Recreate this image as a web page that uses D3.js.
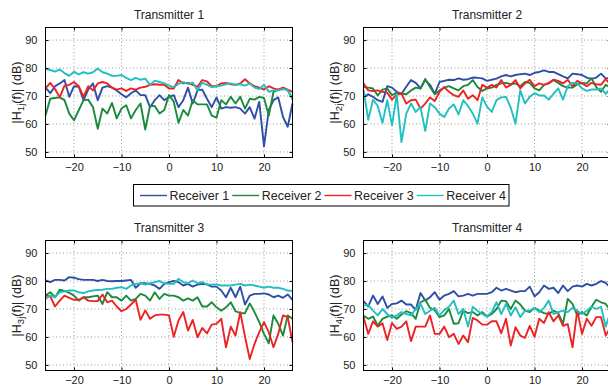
<!DOCTYPE html>
<html>
<head>
<meta charset="utf-8">
<script src="https://cdn.jsdelivr.net/npm/d3@7"></script>
<style>
    body { margin: 0; background: #fff; }
    svg { display: block; font-family: "Liberation Sans", Arial, Helvetica, sans-serif; }
    .grid line { stroke: #9a9a9a; stroke-width: 1; stroke-dasharray: 1,2.5; }
    .axis text { fill: #222; font-size: 11px; }
    .axis line { stroke: #000; }
    .box { fill: none; stroke: #000; stroke-width: 1; }
    .series { fill: none; stroke-width: 1.9; stroke-linejoin: round; }
    .chartTitle { font-size: 12px; fill: #222; }
    .yLabel { font-size: 12.5px; fill: #222; }
    .legendText { font-size: 12.5px; fill: #222; }
</style>
</head>
<body>
<div id="chart"></div>
<script>

/**************
***** DATA *****
***************/

const subcarriers = [-26, -25, -24, -23, -22, -21, -20, -19, -18, -17, -16, -15, -14, -13,
    -12, -11, -10, -9, -8, -7, -6, -5, -4, -3, -2, -1, 0, 1, 2, 3, 4, 5, 6, 7, 8, 9, 10,
    11, 12, 13, 14, 15, 16, 17, 18, 19, 20, 21, 22, 23, 24, 25, 26];

const xTicks = [-20, -10, 0, 10, 20];
const yTicks = [50, 60, 70, 80, 90];

const receivers = ["Receiver 1", "Receiver 2", "Receiver 3", "Receiver 4"];
const transmitters = ["Transmitter 1", "Transmitter 2", "Transmitter 3", "Transmitter 4"];

// transmitter 1
const tx1Rx1 = [73, 71, 73.5, 74.5, 75.7, 69.7, 73.5, 73.3, 68.5, 72.3, 74.5, 68.5, 73, 73.5, 73, 72, 70.6, 69.5, 71, 72, 70.3, 70.3, 66, 68.5, 70.3, 68.5,
    69.7, 70.3, 66, 68.5, 73, 67.3, 72, 72.3, 69, 66, 69.5, 65.5, 66, 65.8, 66, 65.5, 63.7, 66, 61.9, 67.9, 52, 64.9, 68.5, 69.5, 62.5, 59, 67.3];
const tx1Rx2 = [63, 69, 69.3, 69.5, 68.5, 63.7, 61.3, 64.9, 68.5, 68.7, 66, 58.3, 65.5, 63.7, 67.5, 62, 65.5, 66.7, 62, 65, 67.3, 58, 66.4, 66.4, 63.7, 65,
    70.3, 68, 60.4, 65, 63, 68.5, 67, 67, 67, 63, 62.3, 68.5, 67, 69.7, 67.3, 69.7, 65.5, 69, 68.7, 69.7, 69.3, 63, 71.5, 72.3, 72.7, 72, 69];
const tx1Rx3 = [72.7, 74.7, 72.5, 69.5, 73.7, 74, 75, 73.5, 69.7, 73.5, 72, 74.5, 75, 74.5, 73, 72.3, 72.7, 71.8, 72.7, 72.3, 73, 73.3, 74, 74.2, 74, 74,
    72.7, 72.7, 75.7, 74.5, 74.7, 74, 73.3, 75.7, 75.2, 73.5, 73.5, 74.5, 74.7, 74.2, 74, 74.5, 76, 74.5, 73.5, 73, 72.3, 73.5, 72.7, 72.3, 73, 72.3, 71.5];
const tx1Rx4 = [79.6, 79.3, 78.7, 79.5, 78.2, 77.2, 78.7, 77.7, 78.5, 78, 78.5, 79.8, 78.5, 78, 77.2, 77.2, 77.5, 76.5, 75.7, 76.5, 75.8, 76.2, 74, 75.5, 75, 74.5,
    73.7, 73.2, 74.3, 75, 74.3, 74.8, 72, 74.8, 74, 73.2, 73.5, 73.7, 74.2, 74.5, 74, 74.2, 73.7, 74.5, 73, 72.5, 74, 71.5, 72, 72, 72.5, 72.2, 68.7];

// transmitter 2
const tx2Rx1 = [69.7, 70.6, 69.7, 68.5, 67.9, 73.5, 73, 71.5, 70.8, 73.3, 75.7, 74.7, 72.7, 75.7, 74, 70.8, 75, 75.4, 75.8, 75.7, 76.3, 75.8, 76, 76.6, 76.5, 76.3,
    75.4, 75.8, 76.2, 77, 77.5, 77, 77.5, 77.8, 78, 77.5, 78.3, 78.6, 79.2, 78.6, 78.6, 77.8, 77, 76.3, 78, 77.8, 77.5, 76.6, 76.1, 76.6, 78, 76.3, 76.5];
const tx2Rx2 = [73.2, 73, 72.7, 70.2, 72.3, 72.7, 70.3, 71.2, 70.8, 70.6, 72, 73, 72.7, 76.1, 73.2, 70.6, 72, 73, 73.5, 72.7, 72, 73.5, 74, 75.7, 73.2, 71.8,
    72.7, 73, 74, 74.5, 74.7, 74.2, 74.5, 73.5, 75, 74.7, 72.7, 72, 74, 74.5, 75.7, 74.7, 73.5, 73, 73, 74.2, 74.7, 74.5, 76.3, 73.2, 71.5, 74, 73];
const tx2Rx3 = [74.5, 72, 71.8, 72, 71.5, 71.2, 68.7, 70.6, 70.8, 67.3, 68.5, 68.7, 65.5, 67.3, 69.5, 68.2, 71.5, 73.2, 71.5, 70.3, 69.7, 72, 69, 70.3, 68.5, 74,
    73, 74, 73, 75.7, 73, 74, 75.7, 72.7, 74.5, 75.8, 73.5, 74.5, 74, 74.7, 75.8, 75.4, 74.5, 75.8, 73.5, 75.4, 74.5, 73.5, 74.7, 74.2, 74, 76.1, 74];
const tx2Rx4 = [72.3, 61.5, 68.7, 66.4, 60.4, 68.5, 59.5, 70.6, 53.5, 63.7, 67.3, 64.3, 66, 57.5, 67.3, 66, 63.7, 62.5, 65.5, 67, 63.4, 68.5, 66.4, 63.7, 60.1, 69.5,
    66.2, 64.3, 68.5, 69.5, 69.7, 65.8, 60.1, 72, 67.3, 69.7, 71, 70.2, 70.2, 68.7, 70.8, 72.7, 68.7, 73.5, 74.7, 74.5, 72.7, 71.8, 72.3, 72.3, 72.7, 70.8, 72.7];

// transmitter 3
const tx3Rx1 = [80.2, 79.6, 80.4, 80.4, 80.2, 81.4, 81.2, 80.7, 80.4, 80.4, 80.4, 80, 80.4, 80, 79.9, 80, 80, 80.2, 80.4, 77.6, 79.2, 79.2, 79, 78.4, 77.2, 79,
    79.6, 80, 79.6, 78.4, 79, 78, 78.7, 79, 78.8, 78, 78, 76.6, 74.2, 77.6, 74.2, 78, 71.6, 74.8, 75.4, 75.4, 75.6, 75.2, 74.2, 74.8, 74, 75.2, 73.3];
const tx3Rx2 = [74.8, 76, 74.2, 76.9, 76.5, 75.8, 74.8, 73, 74.2, 74.2, 74.5, 74.8, 71.8, 76, 74.2, 74.2, 73, 74.8, 73, 73.6, 75.4, 74.8, 73, 76, 73.6, 75.4,
    74.8, 74.8, 74.2, 73, 73.8, 73, 74.2, 70.9, 70.9, 72.4, 70.6, 69.4, 70.6, 72.4, 69.2, 68.5, 68.5, 72, 68.9, 65.3, 61.1, 57.7, 67.7, 64.7, 60.5, 67.7, 66.5];
const tx3Rx3 = [74.8, 74.5, 70.9, 73, 74.8, 74, 73.3, 73.3, 74.2, 73, 72.8, 72.8, 75.2, 72.4, 73, 70.9, 69.2, 70, 71.6, 73.3, 66.1, 69.5, 66.5, 67.7, 68, 68,
    67.7, 60.1, 65.9, 68.9, 62.3, 66.1, 59.9, 63.2, 61.3, 64.4, 64.7, 66.5, 56.3, 63.7, 60.5, 68.9, 60.1, 52.1, 57.5, 61.7, 65.3, 61.7, 56.3, 61.1, 67.7, 67.1, 58.1];
const tx3Rx4 = [73.6, 74.8, 74.2, 76, 76.3, 76.6, 76.6, 76, 75.7, 76.3, 76.6, 76.8, 76.9, 77.2, 77.2, 77.6, 77.8, 77.2, 78.4, 79, 79.2, 78.7, 79.2, 79.6, 80, 79.2,
    79, 79, 80.8, 79.6, 79.2, 80.2, 79.2, 79.6, 78.7, 78.7, 78.8, 78.4, 78.4, 78.4, 78.7, 79, 78.4, 78.7, 78.4, 78, 77.6, 78, 77.6, 77.6, 77.2, 76.6, 76.4];

// transmitter 4
const tx4Rx1 = [72.8, 70.9, 74.8, 71.8, 74.5, 70.4, 71.8, 72, 73, 71.6, 71.6, 69.7, 75.7, 73, 74.2, 76, 73.3, 74.8, 75.4, 76.4, 74.5, 74.8, 75.4, 74.8, 75.4, 75.4,
    75.4, 76, 77.6, 76.6, 77.2, 76.6, 76, 76.4, 76.4, 78, 74.5, 76, 78.4, 77.2, 77.6, 75.7, 78.4, 76.4, 78, 78.4, 78, 79, 78.4, 79, 80, 79.3, 77.6];
const tx4Rx2 = [67.7, 66.5, 67.3, 64, 66.5, 67.3, 67.7, 66.5, 68, 69.2, 68.5, 66.5, 72.4, 73.3, 70.4, 69.6, 67.1, 67.7, 70, 64.7, 64.9, 69.4, 68.5, 68.9, 67.7, 68.9,
    67.3, 68.2, 70, 73, 72.8, 70, 73, 71.6, 69.4, 68.9, 70.4, 69.4, 68.5, 68.2, 69.4, 68.5, 64.7, 73.6, 71.8, 67.7, 68.9, 67.7, 70.8, 73.3, 72.4, 71.8, 69.4];
const tx4Rx3 = [67.1, 61.1, 65.6, 63.7, 64.9, 58.9, 65, 62.9, 63.7, 65.6, 58.5, 63.7, 63.7, 63.7, 67.7, 61.1, 61.1, 63.7, 59.9, 61.1, 57.5, 60.5, 58.1, 66.8, 65.9, 64.4,
    64.4, 65.6, 65.6, 61.3, 66.5, 56.9, 63.5, 60.5, 59.7, 64, 60.1, 66.5, 65, 68.9, 65.6, 67.7, 64, 64.6, 56.3, 69.4, 61.1, 66.5, 64, 67.1, 67.1, 60.5, 63.5];
const tx4Rx4 = [71.2, 71.5, 69.4, 67.7, 70, 68.2, 66.8, 67.7, 68.9, 68.2, 67.7, 70, 71.8, 68.2, 69.4, 70.4, 67.7, 69.6, 70.8, 73, 68.2, 70, 63.7, 70.8, 69.4, 68.2,
    67.3, 68.9, 72.4, 68.2, 71.8, 67.7, 70.6, 67.1, 69.4, 69.4, 70.4, 68.9, 70.4, 73, 68.2, 68.9, 69.4, 68.9, 70.4, 69.4, 68.2, 69.4, 70.8, 70, 70.8, 63.7, 68.9];

/**********************
***** BASIC SETUP *****
**********************/

const width = 608;
const height = 387;
const plotWidth = 247;
const plotHeight = 130;
const colLeft = [45.5, 363.5];
const rowTop = [27.5, 240.5];
const colors = ["#2f4fa6", "#1a8a3c", "#ee2224", "#22bfc0"];

const svg = d3.select("#chart")
    .append("svg")
    .attr("width", width)
    .attr("height", height)
    .style("overflow", "hidden");

const xScale = d3.scaleLinear()
    .domain([-26, 26])
    .range([0, plotWidth]);

const yScale = d3.scaleLinear()
    .domain([48, 94.5])
    .range([plotHeight, 0]);

const line = d3.line()
    .x((d, i) => xScale(subcarriers[i]))
    .y(d => yScale(d));

const panels = [
    {title: transmitters[0], idx: "1j", series: [tx1Rx1, tx1Rx2, tx1Rx3, tx1Rx4]},
    {title: transmitters[1], idx: "2j", series: [tx2Rx1, tx2Rx2, tx2Rx3, tx2Rx4]},
    {title: transmitters[2], idx: "3j", series: [tx3Rx1, tx3Rx2, tx3Rx3, tx3Rx4]},
    {title: transmitters[3], idx: "4j", series: [tx4Rx1, tx4Rx2, tx4Rx3, tx4Rx4]}
];

/*****************
***** PANELS *****
*****************/

panels.forEach((p, k) => {
    const g = svg.append("g")
        .attr("transform", `translate(${colLeft[k % 2]}, ${rowTop[Math.floor(k / 2)]})`);

    // dotted gridlines
    const grid = g.append("g").attr("class", "grid");
    grid.selectAll(".vline")
        .data(xTicks)
        .enter()
        .append("line")
        .attr("x1", d => xScale(d)).attr("x2", d => xScale(d))
        .attr("y1", 0).attr("y2", plotHeight);
    grid.selectAll(".hline")
        .data(yTicks)
        .enter()
        .append("line")
        .attr("y1", d => yScale(d)).attr("y2", d => yScale(d))
        .attr("x1", 0).attr("x2", plotWidth);

    // lines for the 4 receivers
    g.selectAll(".series")
        .data(p.series)
        .enter()
        .append("path")
        .attr("class", "series")
        .attr("stroke", (d, i) => colors[i])
        .attr("d", line);

    // axes, ticks pointing in like matlab
    g.append("g")
        .attr("class", "axis")
        .attr("transform", `translate(0, ${plotHeight})`)
        .call(d3.axisBottom(xScale).tickValues(xTicks).tickSize(-3).tickSizeOuter(0).tickPadding(6));
    g.append("g")
        .attr("class", "axis")
        .call(d3.axisLeft(yScale).tickValues(yTicks).tickSize(-3).tickSizeOuter(0).tickPadding(8));
    g.append("g")
        .attr("class", "axis")
        .call(d3.axisTop(xScale).tickValues(xTicks).tickSize(-3).tickSizeOuter(0).tickFormat(""));
    g.append("g")
        .attr("class", "axis")
        .attr("transform", `translate(${plotWidth}, 0)`)
        .call(d3.axisRight(yScale).tickValues(yTicks).tickSize(-3).tickSizeOuter(0).tickFormat(""));
    g.selectAll(".axis")
        .attr("font-family", null)
        .attr("font-size", null);
    g.selectAll(".axis .domain").remove();

    g.append("rect")
        .attr("class", "box")
        .attr("width", plotWidth)
        .attr("height", plotHeight);

    // title
    g.append("text")
        .attr("class", "chartTitle")
        .attr("x", plotWidth / 2)
        .attr("y", -9)
        .attr("text-anchor", "middle")
        .text(p.title);

    // y label with subscript
    const yl = g.append("text")
        .attr("class", "yLabel")
        .attr("transform", `translate(-25, ${plotHeight / 2}) rotate(-90)`)
        .attr("text-anchor", "middle");
    yl.append("tspan").text("|H");
    yl.append("tspan").attr("font-size", "9.5px").attr("dy", 3).text(p.idx);
    yl.append("tspan").attr("dy", -3).text("(f)| (dB)");
});

/*****************
***** LEGEND *****
*****************/

const legend = svg.append("g")
    .attr("id", "legend")
    .attr("transform", "translate(133.5, 184.5)");

const legendBox = legend.append("rect")
    .attr("fill", "#fff")
    .attr("stroke", "#000")
    .attr("stroke-width", 1)
    .attr("height", 21.5);

let cursor = 6.5;
receivers.forEach((r, i) => {
    legend.append("line")
        .attr("x1", cursor).attr("x2", cursor + 27)
        .attr("y1", 11).attr("y2", 11)
        .attr("stroke", colors[i])
        .attr("stroke-width", 1.4);
    const t = legend.append("text")
        .attr("class", "legendText")
        .attr("x", cursor + 29.5)
        .attr("y", 15.5)
        .text(r);
    cursor += 29.5 + t.node().getComputedTextLength() + 3;
});
legendBox.attr("width", cursor);

</script>
</body>
</html>
